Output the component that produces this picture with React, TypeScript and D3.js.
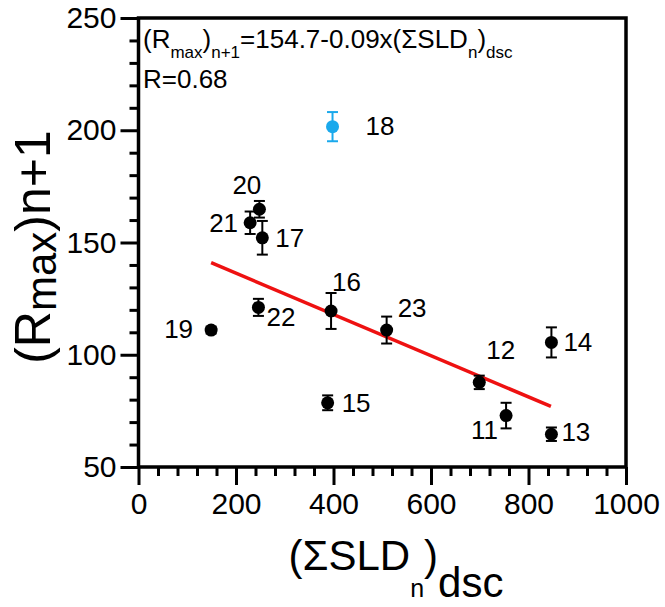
import React, { useEffect, useRef } from "react";
import * as d3 from "d3";

// ---- data ----
const sampleIds = ["11", "12", "13", "14", "15", "16", "17", "18", "19", "20", "21", "22", "23"];
const sumSLD = [754, 699, 847, 847, 388, 395, 254, 398, 149, 248, 229, 246, 509];
const rmaxNext = [72.9, 87.7, 64.6, 105.5, 78.6, 119.5, 152.1, 201.6, 111.0, 164.8, 158.8, 121.1, 111.0];
const rmaxErr = [5.7, 3.0, 3.0, 6.7, 3.3, 8.0, 7.5, 6.5, 1.5, 3.7, 5.0, 3.8, 6.0];
const highlightedIds = ["18"];
const fitX = [149, 846];
const fitY = [141, 77];
const xTicks = [0, 200, 400, 600, 800, 1000];
const yTicks = [50, 100, 150, 200, 250];

// ---- layout (label offsets in px relative to point) ----
const labelOffset: Record<string, [number, number]> = {
  "11": [-35, 23],
  "12": [7, -23],
  "13": [10, 7],
  "14": [12, 9],
  "15": [14, 9],
  "16": [1, -20],
  "17": [13, 9],
  "18": [33, 8],
  "19": [-47, 8],
  "20": [-27, -15],
  "21": [-41, 9],
  "22": [8, 19],
  "23": [11, -13],
};

const W = 665;
const H = 607;
const FONT = "'Liberation Sans', Arial, Helvetica, sans-serif";

export default function App() {
  const ref = useRef<SVGSVGElement>(null);

  useEffect(() => {
    const svg = d3.select(ref.current);
    svg.selectAll("*").remove();

    const x = d3.scaleLinear().domain([0, 1000]).range([138.5, 626]);
    const y = d3.scaleLinear().domain([50, 250]).range([467, 18]);

    const g = svg.append("g").attr("font-family", FONT);

    // minor ticks x
    const xMinor = g
      .append("g")
      .attr("transform", `translate(0,${y(50)})`)
      .call(
        d3
          .axisBottom(x)
          .tickValues(d3.range(0, 1001, 40).filter((v) => v % 200 !== 0))
          .tickSize(9)
          .tickFormat(() => "")
      );
    xMinor.select(".domain").remove();
    xMinor.selectAll("line").attr("stroke", "#000").attr("stroke-width", 3);

    const xMajor = g
      .append("g")
      .attr("transform", `translate(0,${y(50)})`)
      .call(d3.axisBottom(x).tickValues(xTicks).tickSize(18).tickPadding(8).tickFormat(d3.format("d")));
    xMajor.select(".domain").remove();
    xMajor.selectAll("line").attr("stroke", "#000").attr("stroke-width", 3);
    xMajor.selectAll("text").attr("font-size", 30).attr("fill", "#000").attr("font-family", FONT);

    const yMinor = g
      .append("g")
      .attr("transform", `translate(${x(0)},0)`)
      .call(
        d3
          .axisLeft(y)
          .tickValues(d3.range(50, 251, 10).filter((v) => v % 50 !== 0))
          .tickSize(9)
          .tickFormat(() => "")
      );
    yMinor.select(".domain").remove();
    yMinor.selectAll("line").attr("stroke", "#000").attr("stroke-width", 3);

    const yMajor = g
      .append("g")
      .attr("transform", `translate(${x(0)},0)`)
      .call(d3.axisLeft(y).tickValues(yTicks).tickSize(18).tickPadding(4).tickFormat(d3.format("d")));
    yMajor.select(".domain").remove();
    yMajor.selectAll("line").attr("stroke", "#000").attr("stroke-width", 3);
    yMajor.selectAll("text").attr("font-size", 30).attr("fill", "#000").attr("font-family", FONT);

    // frame
    g.append("rect")
      .attr("x", x(0))
      .attr("y", y(250))
      .attr("width", x(1000) - x(0))
      .attr("height", y(50) - y(250))
      .attr("fill", "none")
      .attr("stroke", "#000")
      .attr("stroke-width", 3.5);

    // fit line
    g.append("line")
      .attr("x1", x(fitX[0]))
      .attr("y1", y(fitY[0]))
      .attr("x2", x(fitX[1]))
      .attr("y2", y(fitY[1]))
      .attr("stroke", "#ee1111")
      .attr("stroke-width", 3.5);

    // points
    const data = sampleIds.map((id, i) => ({
      id,
      xv: sumSLD[i],
      yv: rmaxNext[i],
      e: rmaxErr[i],
      color: highlightedIds.includes(id) ? "#1aa9ec" : "#000",
    }));

    const pts = g.selectAll("g.pt").data(data).enter().append("g").attr("class", "pt");
    pts
      .append("line")
      .attr("x1", (d) => x(d.xv))
      .attr("x2", (d) => x(d.xv))
      .attr("y1", (d) => y(d.yv - d.e))
      .attr("y2", (d) => y(d.yv + d.e))
      .attr("stroke", (d) => d.color)
      .attr("stroke-width", 2);
    [1, -1].forEach((s) => {
      pts
        .append("line")
        .attr("x1", (d) => x(d.xv) - 5.5)
        .attr("x2", (d) => x(d.xv) + 5.5)
        .attr("y1", (d) => y(d.yv + s * d.e))
        .attr("y2", (d) => y(d.yv + s * d.e))
        .attr("stroke", (d) => d.color)
        .attr("stroke-width", 2);
    });
    pts
      .append("circle")
      .attr("cx", (d) => x(d.xv))
      .attr("cy", (d) => y(d.yv))
      .attr("r", 6.5)
      .attr("fill", (d) => d.color);
    pts
      .append("text")
      .attr("x", (d) => x(d.xv) + labelOffset[d.id][0])
      .attr("y", (d) => y(d.yv) + labelOffset[d.id][1])
      .attr("font-size", 26)
      .attr("fill", "#000")
      .text((d) => d.id);

    // equation
    const eq = g.append("text").attr("x", 143).attr("y", 48).attr("font-size", 26).attr("fill", "#000");
    eq.append("tspan").text("(R");
    eq.append("tspan").attr("font-size", 17).attr("dy", 10).text("max");
    eq.append("tspan").attr("dy", -10).text(")");
    eq.append("tspan").attr("font-size", 17).attr("dy", 10).text("n+1");
    eq.append("tspan").attr("dy", -10).text("=154.7-0.09x(ΣSLD");
    eq.append("tspan").attr("font-size", 17).attr("dy", 10).text("n");
    eq.append("tspan").attr("dy", -10).text(")");
    eq.append("tspan").attr("font-size", 17).attr("dy", 10).text("dsc");
    g.append("text").attr("x", 143).attr("y", 88).attr("font-size", 26).attr("fill", "#000").text("R=0.68");

    // x title
    const xt = g
      .append("text")
      .attr("x", 396)
      .attr("y", 570)
      .attr("text-anchor", "middle")
      .attr("font-size", 42)
      .attr("fill", "#000");
    xt.append("tspan").text("(ΣSLD");
    xt.append("tspan").attr("font-size", 25).attr("dy", 27).text("n");
    xt.append("tspan").attr("dy", -27).text(")");
    xt.append("tspan").attr("dy", 27).text("dsc");

    // y title
    const yt = g
      .append("text")
      .attr("transform", `translate(50,247) rotate(-90)`)
      .attr("text-anchor", "middle")
      .attr("font-size", 50)
      .attr("fill", "#000");
    yt.append("tspan").text("(R");
    yt.append("tspan").attr("font-size", 42).attr("dy", 6).text("max");
    yt.append("tspan").attr("dy", -6).text(")n+1");
  }, []);

  return (
    <svg
      ref={ref}
      width={W}
      height={H}
      style={{ position: "absolute", left: 0, top: 0, background: "#fff" }}
    />
  );
}
